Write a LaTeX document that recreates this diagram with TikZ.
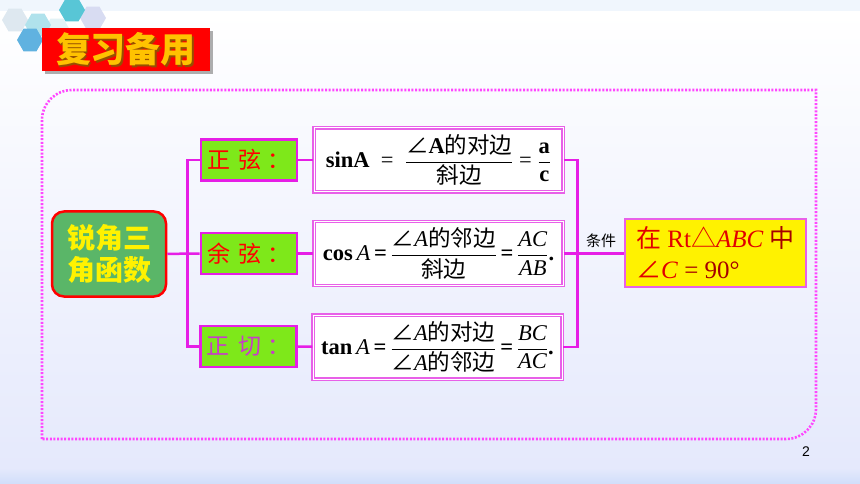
\documentclass[tikz,border=0pt]{standalone}
\usepackage{amsmath}
\usepackage{fontspec}
\usepackage{xcolor}
\setmainfont{Liberation Serif}
\newfontfamily\cjkfont{Noto Sans CJK SC}
\newfontfamily\labelsans{Liberation Sans}
\usetikzlibrary{shadows}

\definecolor{linkpink}{RGB}{230,30,230}
\definecolor{boxpink}{RGB}{232,96,232}
\definecolor{framepink}{RGB}{255,70,255}
\definecolor{labgreen}{RGB}{126,232,26}
\definecolor{maingreen}{RGB}{90,182,104}
\definecolor{titlegold}{RGB}{255,194,0}
\definecolor{titleshade}{RGB}{150,80,0}
\definecolor{condred}{RGB}{225,0,0}
\definecolor{conddark}{RGB}{165,0,0}
\definecolor{tanpurple}{RGB}{200,60,200}
\definecolor{bgtop}{RGB}{240,246,253}
\definecolor{bgmid}{RGB}{229,233,252}
\definecolor{bgbottom}{RGB}{208,222,250}
\definecolor{hexa}{RGB}{222,232,240}
\definecolor{hexb}{RGB}{226,242,246}
\definecolor{hexc}{RGB}{176,226,236}
\definecolor{hexd}{RGB}{96,178,224}
\definecolor{hexe}{RGB}{216,220,242}
\definecolor{hexf}{RGB}{88,198,214}

\newcommand{\cj}[1]{{\cjkfont #1}}
\newcommand{\frc}[2]{$\dfrac{\text{#1}}{\text{#2}}$}

\begin{document}
\begin{tikzpicture}[x=1pt,y=-1pt,
    lab/.style={draw=linkpink,line width=2.8pt,fill=labgreen,minimum width=96pt,minimum height=41pt,inner sep=0pt,font=\fontsize{23}{23}\cjkfont},
    formula/.style={draw=boxpink,double=white,double distance=1pt,line width=1.3pt,fill=white,inner sep=2pt,minimum width=249pt,minimum height=64pt,font=\fontsize{22.5}{26}\selectfont},
    link/.style={draw=linkpink,line width=2.5pt},
    frame/.style={draw=framepink,line width=2.6pt,dash pattern=on 2pt off 1.6pt}]
    % background
    \useasboundingbox (0,0) rectangle (860,484);
    \fill[bgtop] (0,0) rectangle (860,12);
    \fill[top color=white,bottom color=bgmid] (0,12) rectangle (860,468);
    \fill[top color=bgmid,bottom color=bgbottom] (0,468) rectangle (860,484);
    % hexagons
    \foreach \cx/\cy/\hc in {15/20/hexa,57/30/hexb,38/25/hexc,30/40/hexd,93/18/hexe,72/10/hexf} {
        \fill[\hc] (\cx,\cy) +(0:13) -- +(60:13) -- +(120:13) -- +(180:13) -- +(240:13) -- +(300:13) -- cycle;
    }
    % title
    \node[fill=red,minimum width=168pt,minimum height=43pt,drop shadow={shadow xshift=3pt,shadow yshift=-3pt,fill=black!45,opacity=.7}] (title) at (126,49.5) {};
    \node[text=titleshade,font=\fontsize{35}{35}\cjkfont\bfseries] (titleshadow) at ([xshift=1.5pt,yshift=-1.5pt]title.center) {复习备用};
    \node[text=titlegold,font=\fontsize{35}{35}\cjkfont\bfseries] (titletext) at (title.center) {复习备用};
    % frame
    \draw[frame] (42,439) -- (42,120) to[out=90,in=180] (72,90) -- (816,90) -- (816,409) to[out=-90,in=0] (786,439) -- cycle;
    % nodes
    \node[draw=red,line width=2.5pt,fill=maingreen,rounded corners=12pt,minimum width=114pt,minimum height=85pt,
          text=yellow,align=center,font=\fontsize{28}{32}\cjkfont\bfseries] (main) at (109,254) {锐角三\\角函数};
    \node[lab,text=red] (sinlab) at (249,160) {正\hspace{9pt}弦\hspace{6pt}：};
    \node[lab,text=red] (coslab) at (249,253.5) {余\hspace{9pt}弦\hspace{6pt}：};
    \node[lab,text=tanpurple] (tanlab) at (248.5,346.5) {正\hspace{9pt}切\hspace{6pt}：};
    \node[formula] (sinf) at (438.5,160) {\textbf{sinA}\ \ =\ \ \frc{\cj{∠}\textbf{A}\cj{的对边}}{\cj{斜边}}\ =\ \frc{\textbf{a}}{\textbf{c}}};
    \node[formula] (cosf) at (438.5,253.5) {\textbf{cos}\,\textit{A}\,\textbf{=}\,\frc{\cj{∠}\textit{A}\cj{的邻边}}{\cj{斜边}}\,\textbf{=}\,\frc{\textit{AC}}{\textit{AB}}\textbf{.}};
    \node[formula] (tanf) at (437.5,347) {\textbf{tan}\,\textit{A}\,\textbf{=}\,\frc{\cj{∠}\textit{A}\cj{的对边}}{\cj{∠}\textit{A}\cj{的邻边}}\,\textbf{=}\,\frc{\textit{BC}}{\textit{AC}}\textbf{.}};
    \node[draw=boxpink,line width=2.5pt,fill=yellow,minimum width=181pt,minimum height=68pt,align=left,
          text=condred,font=\fontsize{25}{31}\selectfont] (cond) at (715.5,253)
          {\cj{在} Rt\cj{△}\textit{ABC} \textcolor{conddark}{\cj{中}}\\\cj{∠}\textit{C} \textcolor{conddark}{= 90°}};
    % links
    \draw[link] (main) -- (coslab);
    \draw[link] (sinlab.west) -- ++(-12,0) |- (tanlab.west);
    \draw[link] (sinlab) -- (sinf);
    \draw[link] (coslab) -- (cosf);
    \draw[link] (tanlab) -- (tanf);
    \draw[link] (sinf.east) -- ++(14,0) |- (tanf.east);
    \draw[link] (cosf.east) -- (cosf.east -| cond.west);
    \node[font=\fontsize{15}{15}\cjkfont] (condlab) at (601,241) {条件};
    % page number
    \node[font=\fontsize{14}{14}\labelsans] (pagenum) at (806,452) {2};
\end{tikzpicture}
\end{document}
